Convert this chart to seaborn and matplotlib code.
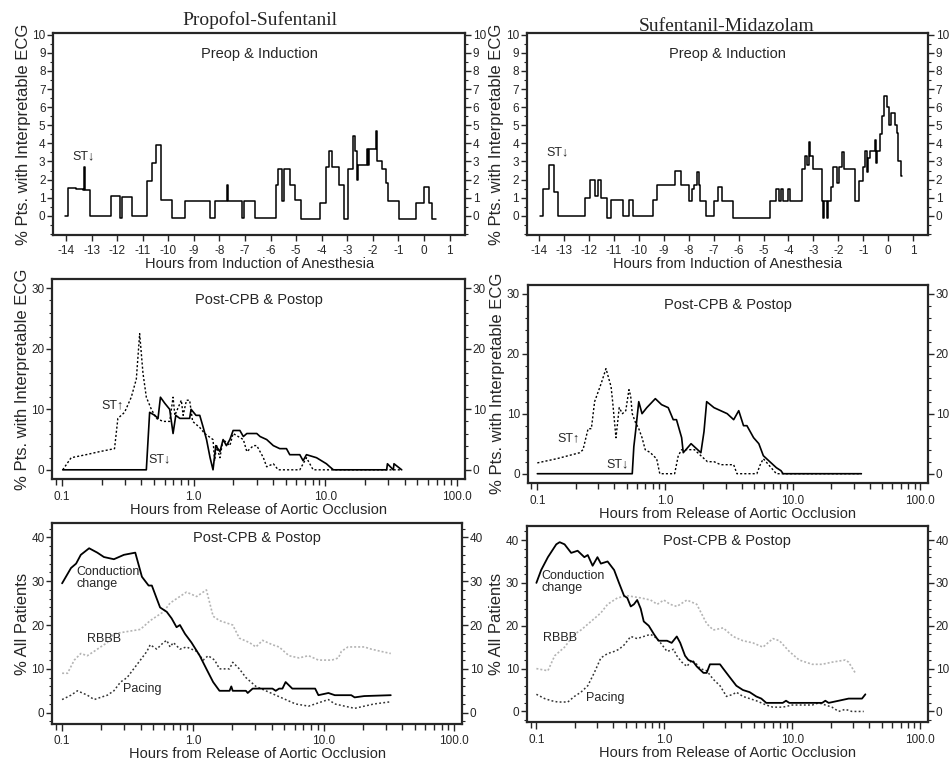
import numpy as np
import pandas as pd
import matplotlib
matplotlib.use('Agg')
import matplotlib.pyplot as plt
from matplotlib.ticker import MultipleLocator, LogLocator, NullFormatter
import seaborn as sns

sns.set_style('ticks')
plt.rcParams['font.family'] = ['Liberation Sans', 'DejaVu Sans']
plt.rcParams['axes.unicode_minus'] = False

# ---- Preop & Induction, Propofol-Sufentanil (ST depression)
ps_pre_h = [-14.04, -13.91, -13.60, -13.35, -13.30, -13.26, -13.06, -12.22, -11.89, -11.81,
            -11.43, -10.85, -10.65, -10.46, -10.30, -9.85, -9.33, -8.35, -8.18, -7.72,
            -7.67, -7.10, -7.02, -6.62, -5.80, -5.71, -5.54, -5.48, -5.25, -5.05,
            -4.83, -4.05, -3.82, -3.71, -3.58, -3.32, -3.14, -2.97, -2.78, -2.71,
            -2.62, -2.58, -2.23, -2.18, -2.15, -1.89, -1.83, -1.63, -1.50, -1.41,
            -0.98, -0.33, -0.02, 0.19, 0.32, 0.48]
ps_pre_st = [0, 1.55, 1.5, 1.45, 2.7, 1.4, 0, 1.1, -0.1, 1.05,
             0, 1.9, 2.9, 3.9, 0.9, -0.1, 0.8, -0.1, 0.8, 1.7,
             0.8, -0.1, 0.8, -0.1, 1.7, 2.6, 0.8, 2.6, 1.7, 0.9,
             -0.2, 0.7, 2.7, 3.6, 2.7, 1.7, -0.2, 2.6, 4.4, 3.6,
             2.0, 2.8, 3.7, 2.8, 3.7, 4.7, 3.0, 2.6, 1.8, 0.8,
             -0.2, 0.7, 1.6, 0.7, -0.2, -0.2]

# ---- Preop & Induction, Sufentanil-Midazolam (ST depression)
sm_pre_h = [-13.97, -13.84, -13.62, -13.41, -13.26, -12.15, -11.98, -11.76, -11.65, -11.50,
            -11.28, -11.11, -10.65, -10.41, -10.23, -9.45, -9.28, -8.54, -8.30, -7.98,
            -7.89, -7.78, -7.65, -7.60, -7.55, -7.29, -7.00, -6.84, -6.67, -6.24,
            -4.76, -4.50, -4.39, -4.29, -4.22, -4.00, -3.92, -3.45, -3.35, -3.24,
            -3.18, -3.13, -3.02, -2.67, -2.62, -2.57, -2.46, -2.41, -2.31, -2.21,
            -2.04, -1.98, -1.85, -1.78, -1.33, -1.17, -1.00, -0.94, -0.85, -0.81,
            -0.72, -0.55, -0.51, -0.46, -0.35, -0.25, -0.15, -0.06, 0.02, 0.11,
            0.26, 0.37, 0.41, 0.50, 0.56]
sm_pre_st = [0, 1.5, 2.8, 1.3, 0, 1.0, 2.0, 1.1, 2.0, 1.0,
             -0.1, 0.9, 0, 0.9, 0, 0.9, 1.7, 2.5, 1.7, 0.8,
             1.5, 1.7, 2.4, 1.7, 0.8, 0, 0.8, 1.6, 0.8, -0.1,
             0.8, 1.5, 0.8, 1.5, 0.8, 1.5, 0.8, 2.6, 3.3, 2.8,
             4.1, 3.3, 2.6, 0.8, -0.1, 0.8, -0.1, 0.8, 1.6, 2.7,
             1.8, 2.7, 3.5, 2.6, 0.8, 1.9, 2.7, 3.6, 2.4, 3.2,
             3.6, 4.2, 2.9, 3.6, 4.5, 5.5, 6.6, 6.0, 5.0, 5.7,
             5.0, 4.6, 3.0, 2.2, 2.2]

# ---- Post-CPB & Postop, Propofol-Sufentanil
ps_up_h = [0.101, 0.117, 0.152, 0.192, 0.250, 0.265, 0.298, 0.335, 0.366, 0.388,
           0.411, 0.436, 0.476, 0.520, 0.584, 0.656, 0.696, 0.718, 0.804, 0.830,
           0.88, 0.93, 0.98, 1.11, 1.21, 1.40, 1.44, 1.49, 1.58, 1.67,
           1.88, 1.99, 2.38, 2.53, 2.84, 3.01, 3.38, 3.58, 4.02, 4.38,
           6.39, 6.77, 7.18, 7.61, 8.07, 38.0]
ps_up_st = [0, 2, 2.5, 3, 3.5, 8.5, 9.5, 12, 15, 22.5,
            16, 12, 10, 8.5, 8, 8, 12, 9, 11.5, 9,
            11.5, 11.5, 8, 7, 6, 5, 1.5, 4, 2, 5,
            4, 6, 5, 3, 4, 4, 2, 0.5, 1, 0,
            0, 1, 2, 1, 0, 0]
ps_dn_h = [0.101, 0.436, 0.462, 0.505, 0.535, 0.558, 0.602, 0.656, 0.696, 0.730,
           0.783, 0.93, 0.954, 1.04, 1.11, 1.18, 1.25, 1.33, 1.40, 1.47,
           1.58, 1.67, 1.77, 1.88, 1.99, 2.24, 2.38, 2.53, 3.01, 3.19,
           3.58, 4.02, 4.50, 5.06, 5.36, 6.39, 6.77, 7.18, 8.56, 10.18,
           10.8, 11.5, 29.2, 29.6, 32.8, 33.2, 38.0]
ps_dn_st = [0, 0, 9.5, 9, 8.5, 12, 11, 10, 6, 9,
            8.5, 8.5, 10, 9, 9, 7, 5, 2, 0, 4,
            3, 5, 4, 5, 6.5, 6.5, 5.5, 6, 6, 5.5,
            5, 4, 3.5, 3.5, 2.5, 2.5, 1.5, 2.5, 2, 1,
            0.5, 0, 0, 1, 0, 1, 0]

# ---- Post-CPB & Postop, Sufentanil-Midazolam
sm_up_h = [0.100, 0.142, 0.215, 0.228, 0.250, 0.265, 0.281, 0.316, 0.345, 0.378,
           0.389, 0.413, 0.438, 0.464, 0.493, 0.522, 0.538, 0.554, 0.588, 0.623,
           0.661, 0.70, 0.77, 0.81, 0.86, 0.91, 1.19, 1.27, 1.35, 1.70,
           1.91, 2.15, 2.42, 2.73, 3.45, 3.66, 5.24, 5.57, 5.89, 7.45, 34.5]
sm_up_st = [1.8, 2.5, 3.5, 4, 7.5, 7.5, 12, 15, 17.5, 14.5,
            12, 6, 11, 10, 10.5, 14, 13, 10, 8.5, 7.5,
            6, 4, 3.5, 3, 2.5, 0, 0, 3, 4, 4,
            3, 2, 2, 1.5, 1.5, 0, 0, 1.5, 2.5, 0, 0]
sm_dn_h = [0.100, 0.554, 0.570, 0.588, 0.623, 0.661, 0.72, 0.84, 0.94, 1.06,
           1.16, 1.23, 1.35, 1.39, 1.60, 1.91, 2.02, 2.12, 2.42, 3.07,
           3.45, 3.78, 4.12, 4.38, 4.94, 5.43, 5.89, 6.62, 7.45, 8.10,
           8.41, 34.5]
sm_dn_st = [0, 0, 4.5, 7, 12, 10, 11, 12.5, 11.5, 11,
            9, 9, 6, 3.5, 5, 3.5, 7, 12, 11, 10,
            9, 10.5, 8, 8, 6, 5, 3, 2, 1, 0.5,
            0, 0]

# ---- Conduction, Propofol-Sufentanil
ps_cond_h = [0.100, 0.117, 0.128, 0.139, 0.161, 0.186, 0.209, 0.249, 0.297, 0.363,
             0.408, 0.459, 0.486, 0.530, 0.562, 0.632, 0.689, 0.751, 0.797, 0.871,
             0.977, 1.13, 1.27, 1.43, 1.60, 1.91, 1.97, 2.02, 2.55, 2.63,
             2.87, 4.07, 4.31, 4.57, 4.85, 5.13, 5.77, 8.63, 9.14, 10.9,
             12.2, 16.3, 17.3, 20.5, 32.7]
ps_cond = [29.5, 33, 34, 36, 37.5, 36.5, 35.5, 35, 36, 36.5,
           31, 29, 29, 26, 24, 23, 21.5, 19.5, 20, 18,
           16, 13, 10, 7, 5, 5, 6, 5, 5, 4.5,
           5.5, 5.5, 5, 5.5, 5.5, 7, 5.5, 5.5, 4, 4.5,
           4, 4, 3.5, 3.8, 4]
ps_rbbb_h = [0.100, 0.110, 0.124, 0.139, 0.156, 0.176, 0.197, 0.222, 0.249, 0.314,
             0.397, 0.472, 0.530, 0.596, 0.670, 0.751, 0.894, 1.07, 1.20, 1.27,
             1.43, 1.60, 2.02, 2.27, 2.71, 3.04, 3.42, 4.07, 4.57, 5.44,
             6.48, 7.69, 9.14, 11.6, 13.0, 13.7, 15.4, 20.5, 23.2, 27.4, 32.7]
ps_rbbb = [9, 9, 12, 13.5, 13, 14, 15, 16, 18, 18.5,
           19, 21, 22, 23, 25, 26, 27.5, 26.5, 27.5, 28,
           22, 21, 20, 17, 16, 15, 16.5, 15.5, 15, 13,
           12.5, 13, 12, 12, 12.5, 14, 15, 15, 14.5, 14, 13.5]
ps_pace_h = [0.100, 0.117, 0.131, 0.156, 0.176, 0.197, 0.222, 0.249, 0.280, 0.314,
             0.353, 0.397, 0.446, 0.472, 0.530, 0.596, 0.632, 0.670, 0.710, 0.797,
             0.894, 1.07, 1.20, 1.31, 1.47, 1.60, 1.91, 2.02, 2.27, 2.55,
             3.04, 3.62, 4.31, 5.13, 6.11, 7.69, 8.63, 9.68, 10.9, 12.2,
             14.5, 17.3, 20.5, 24.4, 32.7]
ps_pace = [3, 4, 5, 4, 3, 3.5, 4, 5, 7, 8,
           10, 12, 14, 15.5, 14.5, 16, 16.5, 15, 16, 14.5,
           15, 14, 12, 13, 12, 10, 10, 11.5, 10, 8,
           6, 5, 4, 3, 2, 1.5, 2, 2.5, 3, 2,
           1.5, 1, 1.5, 2, 2.5]

# ---- Conduction, Sufentanil-Midazolam
sm_cond_h = [0.100, 0.109, 0.123, 0.143, 0.152, 0.166, 0.187, 0.210, 0.237, 0.252,
             0.275, 0.300, 0.319, 0.360, 0.405, 0.442, 0.484, 0.513, 0.546, 0.578,
             0.613, 0.653, 0.690, 0.755, 0.83, 0.90, 1.05, 1.14, 1.25, 1.33,
             1.45, 1.54, 1.69, 1.79, 2.02, 2.14, 2.27, 2.72, 2.88, 3.24,
             3.65, 4.11, 4.64, 5.22, 5.72, 6.25, 8.41, 8.92, 9.46, 17.1,
             18.1, 19.2, 23.0, 27.5, 35.0, 37.2]
sm_cond = [30, 33, 36, 39, 39.5, 39, 37, 37.5, 36, 36.5,
           34, 36, 34.5, 35, 33, 30, 27, 26.5, 24.5, 25,
           26, 24, 21, 20, 18, 16.5, 16.5, 16, 17.5, 16,
           13, 12, 11.5, 10.5, 9, 9, 11, 11, 10, 8,
           6, 5, 4.5, 3.5, 3, 2, 2, 2.5, 2, 2,
           2.5, 2, 2.5, 3, 3, 4]
sm_rbbb_h = [0.100, 0.123, 0.139, 0.166, 0.198, 0.223, 0.267, 0.319, 0.360, 0.430,
             0.513, 0.653, 0.78, 0.88, 0.99, 1.11, 1.25, 1.50, 1.79, 2.14,
             2.41, 2.88, 3.44, 4.11, 4.92, 5.89, 7.04, 7.93, 9.46, 11.3,
             14.3, 17.1, 20.4, 25.9, 27.5, 31.0]
sm_rbbb = [10, 9.5, 13, 15, 18, 19, 21, 23, 25, 26.5,
           27, 26.5, 26, 25, 26, 25, 24.5, 26, 25, 20.5,
           19, 19.5, 17.5, 16.5, 16, 15, 17, 16.5, 14, 12,
           11, 11, 11.5, 12, 11.5, 9]
sm_pace_h = [0.100, 0.116, 0.131, 0.147, 0.176, 0.198, 0.223, 0.252, 0.283, 0.319,
             0.360, 0.405, 0.442, 0.484, 0.546, 0.613, 0.690, 0.78, 0.88, 0.99,
             1.05, 1.18, 1.25, 1.37, 1.50, 1.64, 1.79, 1.90, 2.14, 2.41,
             2.72, 3.06, 3.44, 3.65, 4.11, 4.64, 5.22, 6.25, 7.04, 8.41,
             10.0, 14.3, 16.1, 18.1, 20.4, 23.0, 25.9, 29.2, 36.1]
sm_pace = [4, 3, 2.5, 2.2, 2.2, 3.5, 4.5, 6, 9, 12.5,
           13.5, 14, 14.5, 15.5, 17.5, 17, 17.5, 18, 17, 15,
           14, 14.5, 13, 11.5, 10.5, 12, 11, 10, 9.5, 7.5,
           6, 3.5, 4, 4.5, 3.5, 3, 2.5, 1.5, 1, 1,
           1.5, 1.5, 2, 1.5, 1, 0, 0.5, 0, 0]

hour_ticks = list(range(-14, 2))
log_ticks = [0.1, 1.0, 10.0, 100.0]
log_labels = ['0.1', '1.0', '10.0', '100.0']
col_titles = ['Propofol-Sufentanil', 'Sufentanil-Midazolam']

fig = plt.figure(figsize=(9.49, 7.65), dpi=100)
pos = [[0.056, 0.693, 0.434, 0.264], [0.555, 0.693, 0.423, 0.264],
       [0.055, 0.374, 0.435, 0.261], [0.556, 0.369, 0.422, 0.259],
       [0.055, 0.054, 0.432, 0.262], [0.555, 0.056, 0.423, 0.256]]
axes = [fig.add_axes(p) for p in pos]


def style(ax, ymax_major, ystep, yminor, ylim):
    for s in ax.spines.values():
        s.set_visible(True)
        s.set_linewidth(1.6)
    ax.set_ylim(*ylim)
    ax.set_yticks(np.arange(0, ymax_major + 0.1, ystep))
    ax.yaxis.set_minor_locator(MultipleLocator(yminor))
    ax.tick_params(axis='y', which='both', right=True, labelright=True, direction='out',
                   labelsize=8.5, pad=1.5)
    ax.tick_params(axis='y', which='major', length=4, width=1)
    ax.tick_params(axis='y', which='minor', length=2.5, width=0.8)
    ax.tick_params(axis='x', which='both', direction='out', labelsize=8.5, width=1)


def logx(ax):
    ax.set_xscale('log')
    ax.set_xlim(0.084, 115)
    ax.set_xticks(log_ticks)
    ax.set_xticklabels(log_labels)
    ax.xaxis.set_minor_locator(LogLocator(base=10, subs=np.arange(2, 10)))
    ax.xaxis.set_minor_formatter(NullFormatter())
    ax.tick_params(axis='x', which='major', length=5)
    ax.tick_params(axis='x', which='minor', length=4)
    ax.set_xlabel('Hours from Release of Aortic Occlusion', fontsize=10.5, labelpad=0)


# top row
for ax, h, v in [(axes[0], ps_pre_h, ps_pre_st), (axes[1], sm_pre_h, sm_pre_st)]:
    df = pd.DataFrame({'h': h, 'v': v})
    sns.lineplot(data=df, x='h', y='v', ax=ax, color='black', lw=1.1,
                 estimator=None, sort=False, drawstyle='steps-post')
    style(ax, 10, 1, 0.5, (-1.05, 10.1))
    ax.set_xlim(-14.5, 1.6)
    ax.set_xticks(hour_ticks)
    ax.tick_params(axis='x', which='major', length=4)
    ax.set_xlabel('Hours from Induction of Anesthesia', fontsize=10.5, labelpad=0)
    ax.set_ylabel('% Pts. with Interpretable ECG', fontsize=12, labelpad=1)
    ax.text(0.5, 0.93, 'Preop & Induction', transform=ax.transAxes, ha='center', va='top',
            fontsize=10.5)
axes[0].text(-13.3, 3.3, 'ST↓', fontsize=9, ha='center', va='center')
axes[1].text(-13.25, 3.5, 'ST↓', fontsize=9, ha='center', va='center')

# middle row
for ax, uh, uv, dh, dv in [(axes[2], ps_up_h, ps_up_st, ps_dn_h, ps_dn_st),
                           (axes[3], sm_up_h, sm_up_st, sm_dn_h, sm_dn_st)]:
    up = pd.DataFrame({'h': uh, 'v': uv})
    dn = pd.DataFrame({'h': dh, 'v': dv})
    sns.lineplot(data=up, x='h', y='v', ax=ax, color='black', lw=1.0, ls=(0, (1.5, 1.5)),
                 estimator=None, sort=False)
    sns.lineplot(data=dn, x='h', y='v', ax=ax, color='black', lw=1.2,
                 estimator=None, sort=False)
    style(ax, 30, 10, 2, (-1.5, 31.5))
    logx(ax)
    ax.set_ylabel('% Pts. with Interpretable ECG', fontsize=12, labelpad=1)
    ax.text(0.5, 0.93, 'Post-CPB & Postop', transform=ax.transAxes, ha='center', va='top',
            fontsize=10.5)
axes[2].text(0.243, 10.7, 'ST↑', fontsize=9, ha='center', va='center')
axes[2].text(0.545, 1.75, 'ST↓', fontsize=9, ha='center', va='center')
axes[3].text(0.175, 5.9, 'ST↑', fontsize=9, ha='center', va='center')
axes[3].text(0.424, 1.5, 'ST↓', fontsize=9, ha='center', va='center')

# bottom row
for ax, ch, cv, rh, rv, ph, pv in [
        (axes[4], ps_cond_h, ps_cond, ps_rbbb_h, ps_rbbb, ps_pace_h, ps_pace),
        (axes[5], sm_cond_h, sm_cond, sm_rbbb_h, sm_rbbb, sm_pace_h, sm_pace)]:
    sns.lineplot(x=rh, y=rv, ax=ax, color='#b4b4b4', lw=1.2, ls=(0, (1.2, 1.2)),
                 estimator=None, sort=False)
    sns.lineplot(x=ph, y=pv, ax=ax, color='#333333', lw=1.1, ls=(0, (1.2, 1.5)),
                 estimator=None, sort=False)
    sns.lineplot(x=ch, y=cv, ax=ax, color='black', lw=1.3, estimator=None, sort=False)
    style(ax, 40, 10, 2, (-2.5, 43.2))
    logx(ax)
    ax.set_ylabel('% All Patients', fontsize=12, labelpad=1)
    ax.text(0.5, 0.96, 'Post-CPB & Postop', transform=ax.transAxes, ha='center', va='top',
            fontsize=10.5)
axes[4].text(0.128, 33.5, 'Conduction\nchange', fontsize=9, va='top', linespacing=1.0)
axes[4].text(0.156, 16.7, 'RBBB', fontsize=9, va='center')
axes[4].text(0.29, 5.4, 'Pacing', fontsize=9, va='center')
axes[5].text(0.109, 33.0, 'Conduction\nchange', fontsize=9, va='top', linespacing=1.0)
axes[5].text(0.113, 17.2, 'RBBB', fontsize=9, va='center')
axes[5].text(0.244, 3.2, 'Pacing', fontsize=9, va='center')

fig.text(0.274, 0.974, col_titles[0], family='Liberation Serif', fontsize=14,
         ha='center', va='center')
fig.text(0.766, 0.965, col_titles[1], family='Liberation Serif', fontsize=14,
         ha='center', va='center')

fig.savefig('out.png', dpi=100, facecolor='white')
